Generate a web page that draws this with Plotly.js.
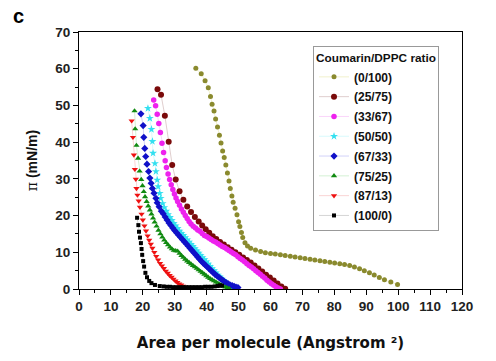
<!DOCTYPE html>
<html>
<head>
<meta charset="utf-8">
<script src="https://cdn.plot.ly/plotly-3.0.1.min.js"></script>
<style>html,body{margin:0;padding:0;background:#fff;}#chart{width:496px;height:361px;}</style>
</head>
<body>
<div id="chart"></div>
<script>
// Series names (Coumarin/DPPC ratio)
const seriesNames = ["(0/100)", "(25/75)", "(33/67)", "(50/50)", "(67/33)", "(75/25)", "(87/13)", "(100/0)"];

// (0/100)
const x0_100 = [36.6,38.3,39.5,40.5,41.2,41.7,42.3,42.8,43.4,44.0,44.5,45.0,45.5,46.0,46.5,47.0,47.4,47.9,48.3,48.9,49.5,50.0,50.4,50.9,51.3,52.0,52.8,
  53.8,55.3,56.9,58.4,60.0,61.5,63.1,64.6,66.2,67.7,69.3,70.8,72.4,73.9,75.5,77.0,78.6,80.1,81.7,83.2,84.8,86.3,87.9,89.4,91.0,92.5,94.1,95.7,97.7,99.8];
const y0_100 = [60.1,58.6,56.7,54.8,52.4,50.3,48.5,46.3,44.1,41.9,39.8,37.6,35.8,33.8,31.6,29.4,27.4,25.3,23.6,22.0,20.2,18.3,17.0,15.4,14.0,12.6,11.7,
  11.1,10.6,10.2,9.9,9.7,9.5,9.3,9.1,8.9,8.7,8.5,8.3,8.1,7.9,7.7,7.5,7.3,7.1,6.9,6.7,6.4,6.0,5.5,5.0,4.4,3.8,3.1,2.5,1.9,1.2];

// (25/75)
const x25_75 = [24.6,25.7,26.9,28.1,29.2,30.3,31.5,32.7,33.9,35.1,36.3,37.5,38.6,39.7,40.8,41.9,43.0,44.2,45.4,46.6,47.8,49.0,50.2,51.4,52.6,53.8,55.0,56.2,57.4,58.6,59.8,61.0,62.2,63.4,64.6];
const y25_75 = [54.4,52.9,47.2,40.1,33.8,29.8,26.6,24.3,22.5,21.0,19.6,18.4,17.3,16.3,15.3,14.4,13.6,12.8,12.1,11.4,10.7,10.0,9.3,8.6,7.9,7.2,6.4,5.6,4.8,3.9,3.1,2.3,1.5,0.7,0.1];

// (33/67)
const x33_67 = [23.4,24.0,24.5,25.0,25.5,26.0,26.5,27.0,27.4,27.9,28.4,28.9,29.4,29.9,30.4,30.9,31.5,32.1,32.7,33.3,33.9,34.5,35.1,35.8,36.5,37.2,37.9,38.6,39.3,40.0,40.7,41.4,42.1,42.8,43.5,44.2,44.9,45.6,46.3,47.0,47.7,48.4,49.1,49.8,50.5,51.2,51.9,52.6,53.3,54.0,54.7,55.4,56.1,56.8,57.5,58.2,58.9,59.6,60.3,61.0,61.7,62.4,63.1];
const y33_67 = [51.5,49.9,47.6,45.1,42.6,39.7,37.2,34.9,33.1,31.3,29.8,28.4,27.1,25.9,24.8,23.8,22.8,21.8,20.9,20.0,19.2,18.4,17.7,17.1,16.6,16.1,15.7,15.1,14.6,14.3,13.9,13.5,13.1,12.8,12.4,12.0,11.6,11.3,10.9,10.5,10.1,9.7,9.3,8.8,8.3,7.9,7.4,6.9,6.4,6.0,5.5,5.0,4.5,4.0,3.5,3.0,2.4,1.9,1.4,1.0,0.6,0.3,0.0];

// (50/50)
const x50_50 = [21.6,22.2,22.7,23.0,23.2,23.8,24.1,24.5,24.8,25.3,25.6,26.2,26.7,27.3,27.9,28.5,29.1,29.7,30.3,30.9,31.5,32.1,32.7,33.3,33.9,34.5,35.1,35.7,36.3,36.9,37.5,38.1,38.7,39.3,39.9,40.5,41.1,41.7,42.3,42.9,43.5,44.1,44.7,45.3,45.9,46.5,47.1,47.7,48.3,48.9];
const y50_50 = [49.2,46.5,43.5,40.2,37.0,34.2,32.0,29.7,27.9,26.1,24.7,23.3,22.2,21.2,20.3,19.5,18.7,17.9,17.2,16.5,15.8,15.2,14.6,14.0,13.4,12.8,12.2,11.6,11.0,10.4,9.8,9.2,8.6,8.0,7.4,6.8,6.2,5.6,5.0,4.4,3.8,3.3,2.8,2.3,1.8,1.4,1.0,0.6,0.3,0.1];

// (67/33)
const x67_33 = [19.4,20.1,20.3,20.6,20.9,21.3,21.8,22.2,22.6,23.0,23.5,24.1,24.5,25.1,25.8,26.4,27.0,27.6,28.2,28.8,29.4,30.0,30.6,31.2,31.8,32.4,33.0,33.6,34.2,34.8,35.4,36.0,36.6,37.2,37.8,38.4,39.0,39.6,40.2,40.8,41.4,42.0,42.6,43.2,43.8,44.4,45.0,45.6,46.2,46.8,47.4,48.0,48.6,49.2,49.8];
const y67_33 = [47.7,44.5,41.3,38.3,36.1,34.0,32.0,30.2,28.8,27.4,26.1,24.7,23.5,22.4,21.2,20.5,19.6,18.8,18.0,17.3,16.6,15.9,15.3,14.7,14.1,13.5,12.9,12.3,11.7,11.1,10.5,9.9,9.3,8.7,8.1,7.5,7.0,6.5,6.0,5.5,5.0,4.5,4.0,3.6,3.2,2.8,2.4,2.0,1.7,1.4,1.1,0.9,0.7,0.5,0.4];

// (75/25)
const x75_25 = [17.4,17.6,18.0,18.5,19.0,19.5,19.9,20.3,20.7,21.2,21.7,22.2,22.7,23.2,23.7,24.3,24.9,25.5,26.1,26.7,27.3,27.9,28.5,29.1,29.7,30.3,30.9,31.5,32.1,32.7,33.3,33.9,34.5,35.1,35.7,36.3,36.9,37.5,38.1,38.7,39.3,39.9,40.5,41.1,41.7,42.3,42.9,43.5,44.1,44.7,45.3,45.9,46.5,47.1];
const y75_25 = [48.5,43.6,39.1,35.6,32.1,29.8,28.1,26.5,25.1,23.8,22.6,21.5,20.4,19.3,18.2,17.1,16.0,15.0,14.1,13.3,12.6,12.0,11.4,10.9,10.5,10.4,10.3,9.7,9.1,8.6,8.1,7.6,7.2,6.8,6.4,6.0,5.6,5.2,4.8,4.4,4.0,3.6,3.2,2.8,2.5,2.2,1.9,1.6,1.3,1.0,0.7,0.5,0.3,0.1];

// (87/13)
const x87_13 = [16.5,16.9,17.2,17.5,17.8,18.0,18.3,18.7,19.1,19.6,20.0,20.5,21.0,21.5,22.0,22.5,23.0,23.6,24.2,24.8,25.4,26.0,26.6,27.2,27.8,28.4,29.0,29.6,30.2,30.8,31.4,32.0,32.6,33.2,33.8,34.4,35.0];
const y87_13 = [45.8,41.3,36.5,32.6,29.9,27.4,25.6,24.0,22.3,20.4,18.8,17.2,15.8,14.5,13.3,12.2,11.1,10.0,8.9,7.9,7.0,6.3,5.6,4.9,4.3,3.7,3.2,2.7,2.2,1.8,1.4,1.1,0.8,0.5,0.3,0.1,0.0];

// (100/0)
const x100_0 = [18.2,18.6,18.8,19.1,19.4,19.6,19.8,20.1,20.4,20.8,21.3,22.0,22.7,23.8,25.3,26.5,27.5,28.5,29.5,30.5,31.5,32.5,33.5,34.5,35.5,36.5,37.5,38.5,39.5,40.5,41.5,42.5,43.5,44.2,44.8];
const y100_0 = [19.4,17.4,15.6,14.0,12.5,10.9,9.3,7.6,6.1,4.4,3.2,2.2,1.6,1.1,0.8,0.7,0.6,0.6,0.5,0.5,0.5,0.5,0.5,0.5,0.5,0.5,0.5,0.5,0.6,0.6,0.6,0.7,0.8,1.0,0.9];

const xs = [x0_100, x25_75, x33_67, x50_50, x67_33, x75_25, x87_13, x100_0];
const ys = [y0_100, y25_75, y33_67, y50_50, y67_33, y75_25, y87_13, y100_0];
const markerColors = ["#8a8a2e", "#7a0a0a", "#ee22ee", "#33e0f0", "#1010c8", "#108a10", "#ee1111", "#000000"];
const lineColors   = ["#e4e49a", "#c09c9c", "#f4a8f4", "#b0f2f8", "#a4a4f2", "#a8e2a8", "#f4a8a8", "#a8a8a8"];
const symbols = ["circle", "circle", "circle", "star", "diamond", "triangle-up", "triangle-down", "square"];
const sizes = [5, 6, 5.5, 6, 5.5, 5.5, 5.5, 4];

const traces = seriesNames.map((name, i) => ({
  type: "scatter",
  mode: "lines+markers",
  name: name,
  legendgroup: name,
  x: xs[i], y: ys[i],
  line: {color: lineColors[i], width: 0.5},
  marker: {color: markerColors[i], symbol: symbols[i], size: sizes[i], line: {width: 0}}
}));

const FONT = "Arial, 'Liberation Sans', sans-serif";
const WIDE = "'DejaVu Sans', Verdana, sans-serif";
const axisCommon = {
  showline: true, linecolor: "#000", linewidth: 1, mirror: true,
  showgrid: false, zeroline: false,
  ticks: "outside", ticklen: 5, tickwidth: 1, tickcolor: "#000",
  tickfont: {family: FONT, size: 13.5, color: "#222", weight: "bold"},
  minor: {ticks: "outside", ticklen: 3, tickwidth: 1, tickcolor: "#000", dtick: 5}
};

const layout = {
  width: 496, height: 361,
  margin: {l: 79, r: 34, t: 32, b: 72},
  paper_bgcolor: "#fff", plot_bgcolor: "#fff",
  font: {family: FONT, color: "#111"},
  xaxis: Object.assign({}, axisCommon, {
    range: [0, 120], dtick: 10, tick0: 0,
    title: {text: "Area per molecule (Angstrom ²)", standoff: 24,
            font: {family: WIDE, size: 15, color: "#111", weight: "bold"}}
  }),
  yaxis: Object.assign({}, axisCommon, {
    range: [0, 70], dtick: 10, tick0: 0,
    title: {text: "<span style=\"font-family:'DejaVu Serif',serif;font-weight:normal\">π</span> (mN/m)", standoff: 14,
            font: {family: FONT, size: 14, color: "#111", weight: "bold"}}
  }),
  legend: {
    x: 0.611, y: 0.9455, xanchor: "left", yanchor: "top",
    bgcolor: "#fff", bordercolor: "#999", borderwidth: 1,
    font: {family: FONT, size: 12, color: "#111", weight: "bold"},
    title: {text: "Coumarin/DPPC ratio", font: {family: FONT, size: 11.8, color: "#111", weight: "bold"}},
    itemwidth: 30, tracegroupgap: 0.8, traceorder: "grouped"
  },
  annotations: [{
    text: "c", xref: "paper", yref: "paper", x: -0.159, y: 1.062,
    xanchor: "center", yanchor: "middle", showarrow: false,
    font: {family: FONT, size: 20, color: "#000", weight: "bold"}
  }],
  showlegend: true
};

Plotly.newPlot("chart", traces, layout, {displayModeBar: false, staticPlot: true});
</script>
</body>
</html>
